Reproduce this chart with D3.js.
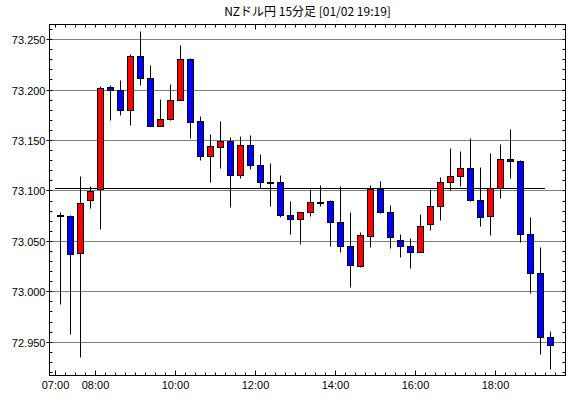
<!DOCTYPE html>
<html>
<head>
<meta charset="utf-8">
<script src="https://cdn.jsdelivr.net/npm/d3@7"></script>
<style>
  body { margin: 0; background: #fff; }
  svg { display: block; }
  .lbl { font-family: "Liberation Sans", Arial, sans-serif; font-size: 11px; fill: #000; }
</style>
</head>
<body>
<div id="container"></div>
<script>
/* CONSTANTS AND GLOBALS */
const width = 570,
  height = 398,
  margin = { top: 24, bottom: 23, left: 49, right: 5 };

/* DATA (15-minute candles) */
const times = ["07:00","07:15","07:30","07:45","08:00","08:15","08:30","08:45",
  "09:00","09:15","09:30","09:45","10:00","10:15","10:30","10:45",
  "11:00","11:15","11:30","11:45","12:00","12:15","12:30","12:45",
  "13:00","13:15","13:30","13:45","14:00","14:15","14:30","14:45",
  "15:00","15:15","15:30","15:45","16:00","16:15","16:30","16:45",
  "17:00","17:15","17:30","17:45","18:00","18:15","18:30","18:45",
  "19:00","19:15"];
const opens = [73.076,73.075,73.038,73.091,73.101,73.203,73.200,73.180,
  73.233,73.211,73.164,73.171,73.190,73.230,73.169,73.134,
  73.143,73.149,73.115,73.145,73.125,73.108,73.108,73.076,
  73.072,73.079,73.089,73.090,73.069,73.045,73.025,73.055,
  73.101,73.079,73.051,73.045,73.039,73.067,73.085,73.108,
  73.114,73.122,73.091,73.075,73.102,73.131,73.129,73.057,
  73.018,72.955];
const highs = [73.079,73.076,73.114,73.104,73.204,73.205,73.209,73.235,
  73.258,73.224,73.191,73.206,73.244,73.231,73.174,73.156,
  73.169,73.153,73.154,73.155,73.136,73.127,73.115,73.090,
  73.079,73.101,73.105,73.091,73.104,73.079,73.059,73.105,
  73.109,73.086,73.057,73.053,73.077,73.101,73.113,73.142,
  73.139,73.152,73.123,73.137,73.146,73.161,73.130,73.074,
  73.044,72.961];
const lows = [72.987,72.958,72.935,73.083,73.062,73.170,73.175,73.165,
  73.205,73.164,73.164,73.170,73.190,73.152,73.130,73.108,
  73.122,73.084,73.112,73.121,73.102,73.085,73.074,73.057,
  73.047,73.075,73.085,73.045,73.039,73.004,73.024,73.044,
  73.078,73.043,73.034,73.023,73.039,73.061,73.071,73.100,
  73.104,73.090,73.065,73.056,73.092,73.112,73.049,72.998,
  72.938,72.923];
const closes = [73.076,73.037,73.088,73.099,73.202,73.200,73.180,73.233,
  73.211,73.164,73.171,73.190,73.230,73.168,73.134,73.144,
  73.149,73.115,73.145,73.125,73.108,73.108,73.076,73.072,
  73.079,73.089,73.089,73.069,73.045,73.026,73.056,73.101,
  73.079,73.054,73.045,73.039,73.065,73.085,73.108,73.114,
  73.122,73.091,73.074,73.102,73.131,73.129,73.057,73.018,
  72.955,72.947];

const yTickValues = [72.950, 73.000, 73.050, 73.100, 73.150, 73.200, 73.250];
const xLabels = ["07:00","08:00","10:00","12:00","14:00","16:00","18:00"];
const refLevel = 73.102;
const refSpan = ["07:00", "19:15"];
const title = "NZドル円 15分足 [01/02 19:19]";

const parse = d3.timeParse("%H:%M");
const data = times.map((t, i) => ({
  time: parse(t), open: opens[i], high: highs[i], low: lows[i], close: closes[i]
}));

/* SCALES */
const xScale = d3.scaleTime()
  .domain([parse("06:51"), parse("19:45")])
  .range([margin.left, width - margin.right]);

const yScale = d3.scaleLinear()
  .domain([72.917, 73.265])
  .range([height - margin.bottom, margin.top]);

const px = v => Math.round(v) + 0.5;
// candle sits in the middle of its 15 minute slot
const cx = d => px(xScale(new Date(d.time.getTime() + 7.5 * 60000)));

/* HTML ELEMENTS */
const svg = d3.select("#container")
  .append("svg")
  .attr("width", width)
  .attr("height", height);

const frameL = margin.left + 0.5, frameR = width - margin.right + 0.5,
  frameT = margin.top + 0.5, frameB = height - margin.bottom + 0.5;

// title
svg.append("text")
  .attr("x", (frameL + frameR) / 2)
  .attr("y", 16)
  .attr("text-anchor", "middle")
  .style("font-family", "'Noto Sans CJK JP', sans-serif")
  .style("font-size", "12px")
  .text(title);

// dotted grid
svg.append("g")
  .selectAll("line")
  .data(yTickValues)
  .join("line")
  .attr("x1", frameL).attr("x2", frameR)
  .attr("y1", d => px(yScale(d))).attr("y2", d => px(yScale(d)))
  .attr("stroke", "#000")
  .attr("stroke-dasharray", "1,1");

// reference line
svg.append("line")
  .attr("x1", xScale(parse(refSpan[0])))
  .attr("x2", xScale(parse(refSpan[1])))
  .attr("y1", px(yScale(refLevel))).attr("y2", px(yScale(refLevel)))
  .attr("stroke", "#000");

// minor ticks on y (inside, both sides)
const yMinor = d3.range(72.92, 73.265, 0.01);
const yt = svg.append("g").attr("stroke", "#000");
yt.selectAll(".l").data(yMinor).join("line").attr("class", "l")
  .attr("x1", frameL).attr("x2", frameL + 3)
  .attr("y1", d => px(yScale(d))).attr("y2", d => px(yScale(d)));
yt.selectAll(".r").data(yMinor).join("line").attr("class", "r")
  .attr("x1", frameR - 3).attr("x2", frameR)
  .attr("y1", d => px(yScale(d))).attr("y2", d => px(yScale(d)));

// x ticks every 15 min (inside, top and bottom)
const xMinor = d3.timeMinute.every(15).range(parse("07:00"), parse("19:45"));
const labelled = new Set(xLabels);
const fmt = d3.timeFormat("%H:%M");
const xt = svg.append("g").attr("stroke", "#000");
xt.selectAll(".b").data(xMinor).join("line").attr("class", "b")
  .attr("x1", d => px(xScale(d))).attr("x2", d => px(xScale(d)))
  .attr("y1", frameB).attr("y2", d => frameB - (labelled.has(fmt(d)) ? 5 : 3));
xt.selectAll(".t").data(xMinor).join("line").attr("class", "t")
  .attr("x1", d => px(xScale(d))).attr("x2", d => px(xScale(d)))
  .attr("y1", frameT).attr("y2", d => frameT + (fmt(d) === "12:00" ? 5 : 3));

// y axis labels
const yAxis = d3.axisLeft(yScale)
  .tickValues(yTickValues)
  .tickSize(3)
  .tickPadding(1)
  .tickFormat(d3.format(".3f"));
svg.append("g")
  .attr("transform", `translate(${frameL}, 0)`)
  .call(yAxis)
  .call(g => g.select(".domain").remove())
  .call(g => g.selectAll(".tick").attr("transform", d => `translate(0,${px(yScale(d))})`))
  .call(g => g.selectAll("text").attr("class", "lbl").attr("dy", "0.4em").attr("font-family", null).attr("font-size", null));

// x axis labels
const xAxis = d3.axisBottom(xScale)
  .tickValues(xLabels.map(parse))
  .tickSize(0)
  .tickPadding(6)
  .tickFormat(fmt);
svg.append("g")
  .attr("transform", `translate(0, ${frameB})`)
  .call(xAxis)
  .call(g => g.select(".domain").remove())
  .call(g => g.selectAll("text").attr("class", "lbl").attr("font-family", null).attr("font-size", null));

// candles
const candles = svg.append("g")
  .selectAll("g")
  .data(data)
  .join("g");

candles.append("line")
  .attr("x1", cx).attr("x2", cx)
  .attr("y1", d => px(yScale(d.high)))
  .attr("y2", d => px(yScale(d.low)))
  .attr("stroke", "#000");

candles.append("rect")
  .attr("x", d => cx(d) - 3)
  .attr("width", 6)
  .attr("y", d => px(yScale(Math.max(d.open, d.close))))
  .attr("height", d => Math.max(1, px(yScale(Math.min(d.open, d.close))) - px(yScale(Math.max(d.open, d.close)))))
  .attr("fill", d => d.close > d.open ? "#ff0000" : d.close < d.open ? "#0000ff" : "#000")
  .attr("stroke", "#000");

// frame
svg.append("rect")
  .attr("x", frameL).attr("y", frameT)
  .attr("width", frameR - frameL).attr("height", frameB - frameT)
  .attr("fill", "none")
  .attr("stroke", "#000");
</script>
</body>
</html>
